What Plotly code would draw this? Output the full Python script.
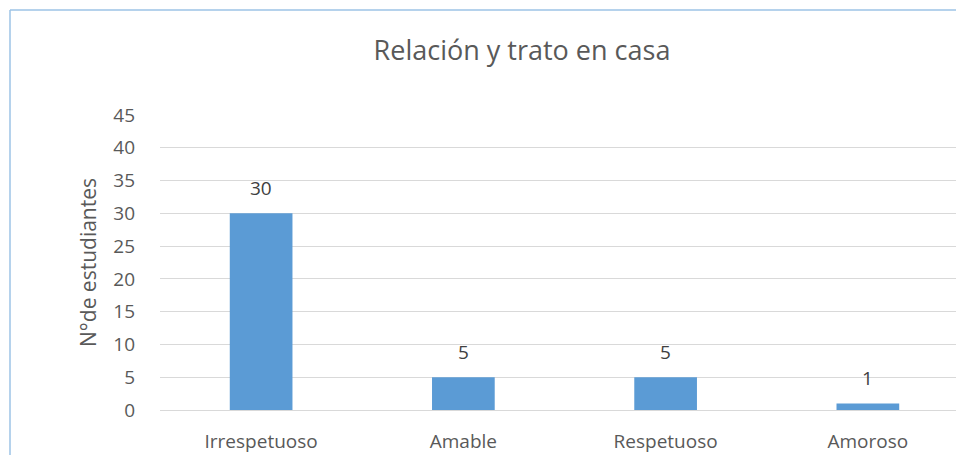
import plotly.graph_objects as go

categories = ["Irrespetuoso", "Amable", "Respetuoso", "Amoroso"]
values = [30, 5, 5, 1]
y_ticks = [0, 5, 10, 15, 20, 25, 30, 35, 40, 45]

W, H = 956, 455
ml, mr, mt, mb = 160, 0, 115, 45
pw = W - ml - mr
ph = H - mt - mb

font_c = "#595959"
ff = "Open Sans, Liberation Sans, sans-serif"

fig = go.Figure(go.Bar(
    x=categories, y=values,
    marker=dict(color="#5B9BD5", line=dict(width=0)),
    hoverinfo="x+y",
))

annotations = [
    dict(x=c, y=v, xref="x", yref="y", text=str(v), showarrow=False,
         yanchor="middle", yshift=25,
         font=dict(size=19, color="#404040", family=ff))
    for c, v in zip(categories, values)
]

def px_to_paper_x(px):
    return (px - ml) / pw

def px_to_paper_y(py):
    return (H - mb - py) / ph

fig.update_layout(
    width=W, height=H,
    margin=dict(l=ml, r=mr, t=mt, b=mb),
    paper_bgcolor="white", plot_bgcolor="white",
    bargap=0.69,
    showlegend=False,
    title=dict(text="Relación y trato en casa", x=522 / W, xanchor="center",
               y=1 - 51 / H, yanchor="middle",
               font=dict(size=27, color=font_c, family=ff)),
    font=dict(family=ff, color=font_c),
    annotations=annotations,
    xaxis=dict(range=[-0.5, 3.5 - (969 - 956) / 202.5], showgrid=False,
               showline=False, zeroline=False, ticks="",
               tickfont=dict(size=19, color=font_c), ticklabelstandoff=18),
    yaxis=dict(range=[0, 45], tickvals=y_ticks, showgrid=True,
               gridcolor="#D9D9D9", gridwidth=1, zeroline=True,
               zerolinecolor="#D9D9D9", zerolinewidth=1, showline=False,
               ticks="", tickfont=dict(size=19, color=font_c),
               ticklabelstandoff=24,
               title=dict(text="N°de estudiantes", standoff=10,
                          font=dict(size=21, color=font_c))),
    shapes=[
        dict(type="line", xref="paper", yref="paper",
             x0=px_to_paper_x(10), x1=px_to_paper_x(960),
             y0=px_to_paper_y(10), y1=px_to_paper_y(10),
             line=dict(color="#9DC3E6", width=1.5)),
        dict(type="line", xref="paper", yref="paper",
             x0=px_to_paper_x(10), x1=px_to_paper_x(10),
             y0=px_to_paper_y(10), y1=px_to_paper_y(460),
             line=dict(color="#9DC3E6", width=1.5)),
    ],
)

fig.write_html(
    "out.html",
    config={"displayModeBar": False},
    post_script=(
        "document.documentElement.style.margin='0';"
        "document.documentElement.style.overflow='hidden';"
        "document.body.style.margin='0';"
        "document.body.style.overflow='hidden';"
    ),
)
